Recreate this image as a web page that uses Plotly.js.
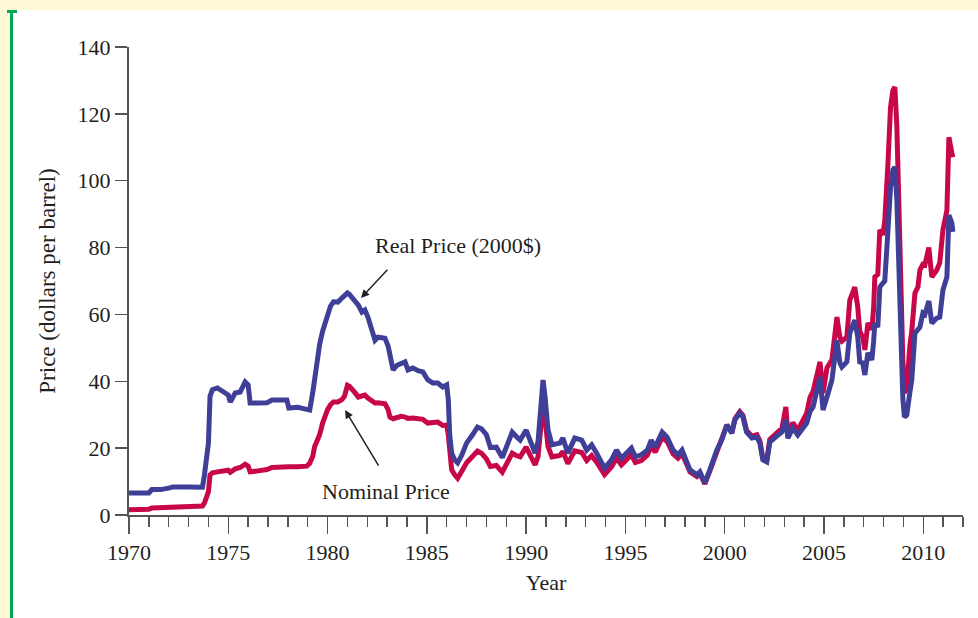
<!DOCTYPE html>
<html>
<head>
<meta charset="utf-8">
<script src="https://cdn.plot.ly/plotly-3.0.1.min.js"></script>
<style>
  html, body { margin:0; padding:0; background:#ffffff; }
  #wrap { position:relative; width:978px; height:618px; overflow:hidden; background:#ffffff; }
  #topband { position:absolute; left:0; top:0; width:978px; height:10px; background:#fff9d6; }
  #leftband { position:absolute; left:0; top:0; width:10px; height:618px; background:#fff9d6; }
  #greenline { position:absolute; left:10px; top:11px; width:3px; height:607px; background:#00a651; }
  #greencap { position:absolute; left:7px; top:10px; width:10px; height:3px; background:#00a651; }
  #chart { position:absolute; left:0; top:0; width:978px; height:618px; }
</style>
</head>
<body>
<div id="wrap">
  <div id="topband"></div>
  <div id="leftband"></div>
  <div id="greenline"></div>
  <div id="greencap"></div>
  <div id="chart"></div>
</div>
<script>
// Time (decimal years)
const years = [
  1970.00,1970.50,1971.00,1971.15,1971.60,1972.05,1972.20,1973.00,1973.70,1973.80,
  1973.90,1974.00,1974.08,1974.20,1974.45,1974.70,1974.85,1975.00,1975.10,1975.35,
  1975.60,1975.75,1975.85,1976.00,1976.10,1976.50,1976.95,1977.20,1977.60,1977.95,
  1978.05,1978.50,1978.95,1979.10,1979.25,1979.35,1979.50,1979.60,1979.75,1979.90,
  1980.00,1980.15,1980.30,1980.52,1980.72,1980.85,1981.00,1981.10,1981.23,1981.38,
  1981.55,1981.73,1981.88,1982.03,1982.23,1982.39,1982.54,1982.89,1983.05,1983.14,
  1983.30,1983.50,1983.70,1983.90,1984.05,1984.30,1984.55,1984.80,1985.05,1985.30,
  1985.55,1985.80,1986.00,1986.08,1986.15,1986.25,1986.40,1986.55,1986.75,1987.00,
  1987.30,1987.55,1987.75,1988.00,1988.20,1988.50,1988.80,1989.05,1989.30,1989.50,
  1989.70,1990.00,1990.20,1990.45,1990.60,1990.72,1990.85,1990.95,1991.10,1991.30,
  1991.70,1991.85,1992.10,1992.45,1992.80,1993.05,1993.30,1993.55,1993.95,1994.30,
  1994.55,1994.80,1995.05,1995.30,1995.50,1995.80,1996.10,1996.30,1996.50,1996.85,
  1997.10,1997.40,1997.65,1997.85,1998.25,1998.60,1998.75,1999.00,1999.25,1999.60,
  1999.85,2000.11,2000.36,2000.51,2000.76,2000.92,2001.10,2001.37,2001.62,2001.77,
  2001.92,2002.12,2002.27,2002.53,2002.68,2002.88,2003.08,2003.18,2003.43,2003.68,
  2003.94,2004.13,2004.30,2004.45,2004.80,2004.95,2005.15,2005.40,2005.65,2005.80,
  2005.90,2006.15,2006.30,2006.55,2006.70,2006.80,2006.95,2007.06,2007.21,2007.41,
  2007.50,2007.56,2007.71,2007.81,2007.97,2008.06,2008.22,2008.35,2008.47,2008.57,
  2008.67,2008.82,2008.92,2008.97,2009.05,2009.17,2009.32,2009.42,2009.58,2009.73,
  2009.83,2009.98,2010.08,2010.28,2010.43,2010.68,2010.83,2010.99,2011.19,2011.29,
  2011.44,2011.49
];

// Nominal price (dollars per barrel)
const nominalPrice = [
  1.6,1.6,1.7,2.1,2.2,2.4,2.5,2.6,2.7,3.6,
  5.0,7.0,12.0,12.6,12.9,13.2,13.5,13.4,12.8,13.8,
  14.2,14.8,15.2,14.6,12.9,13.2,13.6,14.2,14.4,14.5,
  14.4,14.4,14.6,15.5,17.5,20.5,22.5,24.0,27.5,30.0,
  31.5,33.0,33.8,33.8,34.5,35.5,38.8,38.5,37.8,36.6,
  35.3,35.5,35.9,35.0,34.0,33.5,33.6,33.3,31.5,29.3,
  28.8,29.2,29.5,29.3,28.9,29.0,28.9,28.6,27.5,27.5,
  27.8,26.8,26.9,24.0,17.5,13.5,12.0,11.0,13.0,15.6,
  17.5,19.1,18.5,16.8,14.5,14.8,12.8,15.5,18.5,17.8,
  17.4,20.3,18.0,15.0,17.5,27.0,33.0,29.0,20.5,17.4,
  17.8,19.0,15.4,19.2,18.7,16.3,17.8,15.8,12.1,14.4,
  17.0,15.0,16.5,18.0,15.7,16.3,17.9,20.7,18.8,23.2,
  22.0,18.3,17.0,18.4,12.9,11.5,12.4,9.3,13.1,19.0,
  22.2,27.0,24.6,28.7,30.9,29.8,25.3,23.6,24.0,22.2,
  17.0,16.5,22.6,24.3,24.9,25.9,32.3,24.3,27.6,25.4,
  28.0,30.5,35.3,37.0,45.8,36.5,44.0,46.4,59.2,53.2,
  52.0,53.2,64.3,68.2,62.2,55.0,53.2,49.4,57.4,55.5,
  62.0,71.2,72.0,85.3,83.8,88.0,105.0,122.0,127.0,128.0,
  116.0,76.3,60.0,46.4,36.5,38.0,50.3,55.0,66.4,68.2,
  73.3,75.0,74.8,80.0,71.2,73.3,75.5,85.3,91.2,113.0,
  108.3,107.0
];

// Real price (2000 dollars per barrel)
const realPrice = [
  6.6,6.6,6.6,7.6,7.6,8.1,8.4,8.4,8.3,12.0,
  16.5,21.5,35.5,37.5,38.0,37.2,36.8,35.9,33.8,36.5,
  36.8,38.5,39.8,38.9,33.5,33.5,33.6,34.4,34.2,34.4,
  32.0,32.2,31.6,31.4,36.5,41.3,48.5,51.0,55.0,58.0,
  60.4,62.5,63.8,63.7,64.9,65.5,66.4,66.0,65.2,64.0,
  62.8,60.7,61.3,59.2,54.7,52.3,53.2,52.9,50.5,48.0,
  43.4,44.8,45.5,45.8,43.4,44.0,43.2,42.8,40.4,39.5,
  39.5,38.3,38.9,34.5,24.0,18.5,16.5,15.6,17.8,21.5,
  24.0,26.3,25.8,24.0,20.2,20.3,17.2,21.0,24.8,23.5,
  22.4,25.4,22.3,18.5,22.0,33.5,40.4,35.5,25.5,21.0,
  21.5,23.0,18.5,23.0,22.4,19.4,21.0,18.5,14.0,16.5,
  19.4,17.0,18.5,20.0,17.4,18.0,19.4,22.4,20.3,24.8,
  23.3,19.4,18.0,19.4,13.5,12.0,12.9,9.6,13.5,19.4,
  22.4,26.9,24.5,28.4,30.5,29.3,24.8,23.0,23.3,21.5,
  16.5,15.9,21.8,23.3,23.9,24.8,28.4,23.0,26.0,23.9,
  26.3,27.5,31.0,32.3,41.3,31.4,35.3,40.4,52.3,45.5,
  44.3,45.8,54.4,58.3,53.2,45.8,45.5,41.9,48.5,46.4,
  52.0,57.4,56.2,68.2,69.4,70.0,85.0,98.0,103.2,104.1,
  94.2,62.0,48.0,35.0,29.3,29.9,36.5,40.4,54.4,55.5,
  56.2,60.4,60.0,64.0,57.4,58.9,59.2,67.3,71.2,89.7,
  87.3,84.7
];

const xTickVals = [1970,1975,1980,1985,1990,1995,2000,2005,2010];
const xTickText = ['1970','1975','1980','1985','1990','1995','2000','2005','2010'];
const yTickVals = [0,20,40,60,80,100,120,140];
const yTickText = ['0','20','40','60','80','100','120','140'];

const serif = 'Liberation Serif, Times New Roman, serif';
const axisCol = '#555555';
const textCol = '#231f20';

const traces = [
  { x: years, y: nominalPrice, type: 'scatter', mode: 'lines', name: 'Nominal Price',
    line: { color: '#c8074b', width: 5 }, hoverinfo: 'skip' },
  { x: years, y: realPrice, type: 'scatter', mode: 'lines', name: 'Real Price (2000$)',
    line: { color: '#3f3f98', width: 5 }, hoverinfo: 'skip' }
];

const layout = {
  width: 978, height: 618,
  margin: { l: 129, r: 15, t: 47, b: 103 },
  paper_bgcolor: 'rgba(0,0,0,0)', plot_bgcolor: 'rgba(0,0,0,0)',
  showlegend: false,
  font: { family: serif, color: textCol, size: 22 },
  xaxis: {
    range: [1970, 2012], tickmode: 'array', tickvals: xTickVals, ticktext: xTickText,
    ticks: 'outside', ticklen: 17, tickwidth: 1.5, tickcolor: axisCol,
    showline: true, linecolor: axisCol, linewidth: 2, showgrid: false, zeroline: false,
    tickfont: { family: serif, size: 22, color: textCol },
    minor: { tickmode: 'linear', tick0: 1970, dtick: 1, ticks: 'outside', ticklen: 10,
             tickwidth: 1.5, tickcolor: axisCol, showgrid: false },
    title: { text: 'Year', font: { family: serif, size: 22, color: textCol }, standoff: 10 }
  },
  yaxis: {
    range: [0, 140], tickmode: 'array', tickvals: yTickVals, ticktext: yTickText,
    ticks: 'outside', ticklen: 12, tickwidth: 1.5, tickcolor: axisCol,
    showline: true, linecolor: axisCol, linewidth: 2, showgrid: false, zeroline: false,
    tickfont: { family: serif, size: 22, color: textCol },
    title: { text: 'Price (dollars per barrel)', font: { family: serif, size: 23, color: textCol }, standoff: 16 }
  },
  annotations: [
    { x: 1986.57, y: 80.5, xref: 'x', yref: 'y', text: 'Real Price (2000$)', showarrow: false,
      font: { family: serif, size: 22, color: textCol } },
    { x: 1981.68, y: 64.9, xref: 'x', yref: 'y', text: ' ', showarrow: true,
      ax: 31, ay: -33, arrowhead: 2, arrowsize: 1.1, arrowwidth: 1.5, arrowcolor: '#222222' },
    { x: 1982.94, y: 6.9, xref: 'x', yref: 'y', text: 'Nominal Price', showarrow: false,
      font: { family: serif, size: 22, color: textCol } },
    { x: 1980.88, y: 31.4, xref: 'x', yref: 'y', text: ' ', showarrow: true,
      ax: 38, ay: 63, arrowhead: 2, arrowsize: 1.1, arrowwidth: 1.5, arrowcolor: '#222222' }
  ]
};

Plotly.newPlot('chart', traces, layout, { staticPlot: true, displayModeBar: false });
</script>
</body>
</html>
